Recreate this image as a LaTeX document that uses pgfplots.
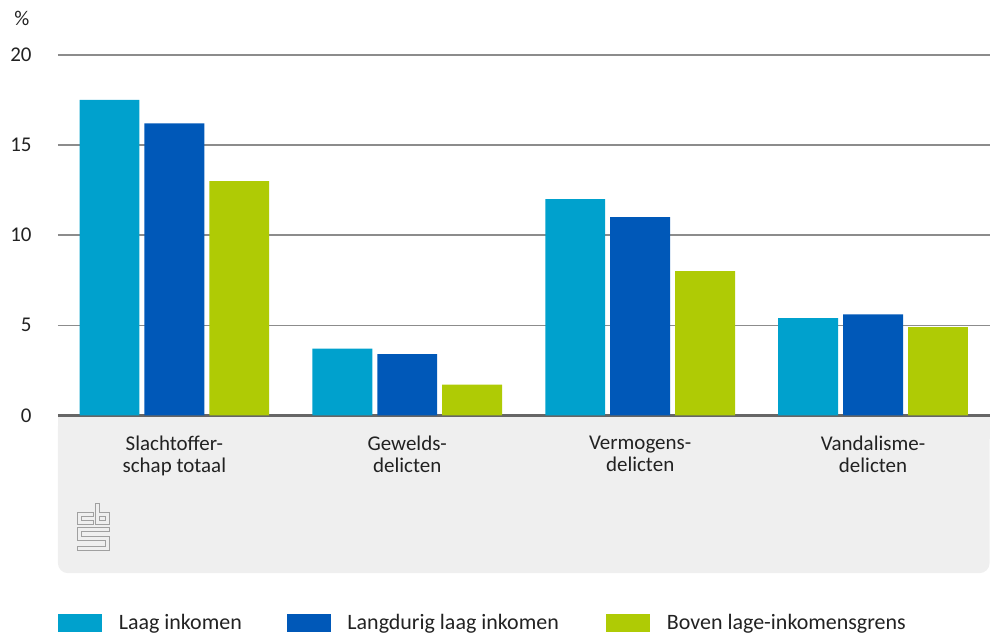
\documentclass[border=0pt]{standalone}
\usepackage{fontspec}
\setmainfont{Carlito}
\usepackage{pgfplots}
\pgfplotsset{compat=1.18}

\definecolor{cbsA}{HTML}{00A1CD}
\definecolor{cbsB}{HTML}{0058B8}
\definecolor{cbsC}{HTML}{AFCB05}
\definecolor{panelgray}{HTML}{EFEFEF}
\definecolor{gridgray}{HTML}{8C8C8C}
\definecolor{axisgray}{HTML}{666666}
\definecolor{logogray}{HTML}{A0A0A0}
\definecolor{txt}{HTML}{222222}

\begin{document}
\begin{tikzpicture}
% background panel and logo, drawn in pixel units of the reference
\begin{scope}[x=0.5pt,y=-0.5pt]
\path[use as bounding box] (0,0) rectangle (991,637);
\fill[panelgray, rounded corners=5pt] (58,417) rectangle (991,574);
\fill[panelgray] (58,417) rectangle (991,440);
\node[text=txt, font=\fontsize{10.5}{12}\selectfont] at (22,18) {\%};
\begin{scope}[draw=logogray, line width=0.6pt]
\draw (94,513) -- (78,513) -- (78,525) -- (94,525) -- (94,521) -- (82,521) -- (82,517) -- (94,517) -- cycle;
\draw (96,504) -- (100,504) -- (100,513) -- (110,513) -- (110,525) -- (96,525) -- cycle;
\draw (100,517) rectangle (106,521);
\draw (110,528) -- (78,528) -- (78,541) -- (106,541) -- (106,547) -- (78,547) -- (78,551) -- (110,551) -- (110,537) -- (82,537) -- (82,532) -- (110,532) -- cycle;
\end{scope}
\end{scope}

\begin{axis}[
    at={(29pt,-208pt)}, anchor=south west,
    scale only axis, width=466.5pt, height=180.5pt,
    ybar=2.5pt, bar width=30pt,
    xmin=-0.5, xmax=3.5, ymin=0, ymax=20,
    xtick={0,1,2,3},
    xticklabels={{Slachtoffer-\\schap totaal},{Gewelds-\\delicten},{Vermogens-\\delicten},{Vandalisme-\\delicten}},
    ytick={0,5,10,15,20},
    /pgf/number format/assume math mode=true,
    xticklabel style={align=center, text=txt, inner sep=0pt, yshift=-10pt,
        font=\fontsize{10.5}{11}\selectfont},
    yticklabel style={text=txt, inner sep=0pt, anchor=east, xshift=-13pt,
        font=\fontsize{10.5}{12}\selectfont},
    major tick length=0pt,
    tick style={draw=none},
    ymajorgrids, grid style={gridgray, line width=0.75pt},
    axis x line*=bottom, axis y line*=left,
    x axis line style={axisgray, line width=1.5pt},
    y axis line style={draw=none},
    legend style={at={(0,-0.5762)}, anchor=west, draw=none, fill=none,
        inner sep=0pt, outer sep=0pt, text=txt,
        font=\fontsize{11}{12}\selectfont,
        nodes={inner sep=0pt, anchor=base west},
        /tikz/every odd column/.append style={column sep=8.5pt}},
    legend columns=-1,
    legend image code/.code={\fill[#1] (0pt,-1pt) rectangle (22pt,8pt);},
]
\addplot[fill=cbsA, draw=none] coordinates {(0,17.5) (1,3.7) (2,12.0) (3,5.4)};
\addlegendentry{\makebox[84pt][l]{Laag inkomen}}
\addplot[fill=cbsB, draw=none] coordinates {(0,16.2) (1,3.4) (2,11.0) (3,5.6)};
\addlegendentry{\makebox[129.5pt][l]{Langdurig laag inkomen}}
\addplot[fill=cbsC, draw=none] coordinates {(0,13.0) (1,1.7) (2,8.0) (3,4.9)};
\addlegendentry{Boven lage-inkomensgrens}
\end{axis}
\end{tikzpicture}
\end{document}
